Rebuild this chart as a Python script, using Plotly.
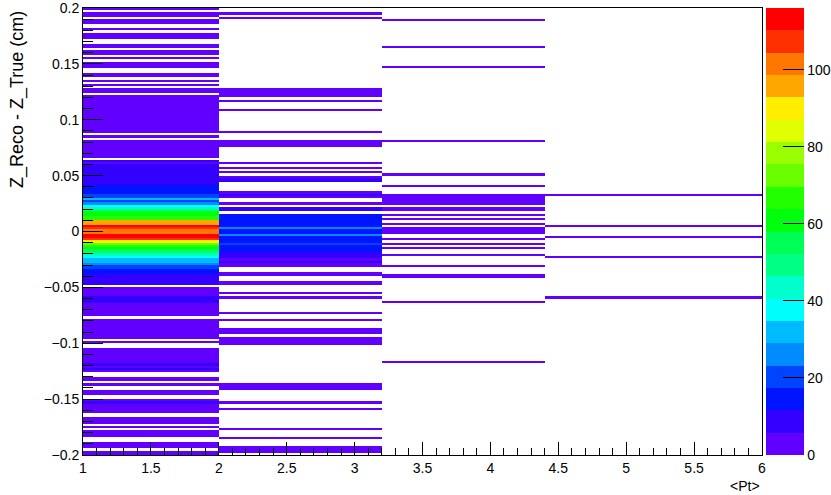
import numpy as np
import plotly.graph_objects as go

# ---- binning -------------------------------------------------------------
X_EDGES = [1.0, 2.0, 3.2, 4.4, 6.0]          # <Pt> bins (variable width)
Y_LO, Y_HI, N_YBINS = -0.2, 0.2, 200          # Z_Reco - Z_True bins (cm)

# ---- bin contents --------------------------------------------------------
# 1 < <Pt> < 2 : counts per y-bin, listed from the top (y = 0.2) downward
COL1_COUNTS = [
    2, 0, 1, 2, 0, 2, 1, 0, 0, 1,            # t 0-9
    0, 2, 1, 2, 0, 0, 1, 2, 0, 2,            # t 10-19
    1, 0, 1, 0, 2, 1, 2, 0, 0, 1,            # t 20-29
    2, 0, 1, 0, 2, 0, 2, 1, 0, 3,            # t 30-39
    2, 4, 3, 2, 4, 3, 3, 2, 4, 3,            # t 40-49
    3, 4, 3, 2, 4, 3, 0, 2, 0, 4,            # t 50-59
    3, 5, 4, 3, 5, 4, 3, 0, 7, 5,            # t 60-69
    8, 9, 6, 8, 10, 9, 7, 10, 11, 13,        # t 70-79
    15, 12, 16, 19, 21, 31, 22, 26, 36, 42,  # t 80-89
    47, 60, 62, 66, 68, 95, 94, 112, 108, 100,   # t 90-99
    102, 111, 113, 106, 89, 72, 68, 62, 55, 50,  # t 100-109
    44, 38, 33, 31, 26, 21, 19, 15, 13, 9,   # t 110-119
    10, 8, 7, 9, 0, 4, 3, 5, 4, 8,           # t 120-129
    7, 9, 4, 3, 5, 2, 4, 3, 0, 3,            # t 130-139
    4, 2, 5, 3, 4, 3, 2, 4, 0, 2,            # t 140-149
    0, 0, 3, 2, 4, 3, 2, 3, 4, 7,            # t 150-159
    3, 6, 3, 0, 0, 2, 1, 0, 2, 0,            # t 160-169
    0, 1, 2, 0, 0, 3, 6, 4, 2, 5,            # t 170-179
    3, 0, 0, 2, 3, 1, 0, 2, 0, 3,            # t 180-189
    2, 4, 0, 0, 2, 3, 2, 0, 3, 4,            # t 190-199
]

# 2 < <Pt> < 3.2 : occupied bins (bin centre in cm) and their counts
COL2_Y = [0.195, 0.191, 0.127, 0.125, 0.123, 0.121, 0.117, 0.109, 0.089,
          0.081, 0.079, 0.077, 0.061, 0.057, 0.053, 0.049, 0.047, 0.045,
          0.035, 0.033, 0.031, 0.025, 0.021, 0.019, 0.015, 0.013, 0.011,
          0.009, 0.007, 0.005, 0.003, 0.001, -0.001, -0.003, -0.005, -0.007,
          -0.009, -0.011, -0.013, -0.015, -0.017, -0.019, -0.021, -0.023,
          -0.025, -0.027, -0.029, -0.031, -0.037, -0.039, -0.045, -0.047,
          -0.055, -0.059, -0.073, -0.079, -0.087, -0.089, -0.091, -0.095,
          -0.097, -0.099, -0.101, -0.137, -0.139, -0.141, -0.153, -0.159,
          -0.177, -0.185, -0.193, -0.195, -0.197]
COL2_N = [1, 1, 3, 2, 3, 2, 1, 1, 2,
          3, 2, 3, 1, 1, 1, 5, 7, 6,
          4, 7, 5, 2, 8, 9, 13, 14, 15,
          13, 16, 14, 24, 15, 13, 25, 14, 12,
          16, 19, 15, 13, 12, 9, 8, 7,
          5, 6, 4, 5, 3, 2, 4, 3,
          1, 1, 1, 1, 2, 3, 2, 3,
          4, 2, 3, 3, 2, 4, 1, 1,
          1, 1, 2, 3, 2]

# 3.2 < <Pt> < 4.4
COL3_Y = [0.189, 0.165, 0.147, 0.081, 0.051, 0.041, 0.033, 0.031, 0.029,
          0.027, 0.025, 0.021, 0.019, 0.015, 0.011, 0.007, 0.003, 0.001,
          -0.001, -0.007, -0.011, -0.015, -0.021, -0.031, -0.039, -0.041,
          -0.063, -0.117]
COL3_N = [1, 1, 1, 1, 1, 1, 2, 3, 2,
          3, 2, 2, 3, 2, 1, 2, 3, 2,
          3, 1, 2, 1, 2, 1, 2, 3,
          1, 1]

# 4.4 < <Pt> < 6
COL4_Y = [0.033, 0.005, -0.005, -0.023, -0.059]
COL4_N = [1, 1, 1, 1, 1]

Z_MAX = 116.0
Z_TICKS = [0, 20, 40, 60, 80, 100]

# ROOT "pretty" palette sampled at 20 contour levels
PALETTE = ['#6200ff', '#3300ff', '#0014ff', '#0044ff', '#008bff',
           '#00bbff', '#00fffc', '#00ffcc', '#00ff85', '#00ff55',
           '#00ff0e', '#22ff00', '#69ff00', '#99ff00', '#e0ff00',
           '#ffee00', '#ffa700', '#ff7700', '#ff3000', '#ff0000']

Y_TICKS = [0.2, 0.15, 0.1, 0.05, 0.0, -0.05, -0.1, -0.15, -0.2]
Y_TICKTEXT = ['0.2', '0.15', '0.1', '0.05', '0', '\u22120.05', '\u22120.1',
              '\u22120.15', '\u22120.2']
X_TICKS = [1, 1.5, 2, 2.5, 3, 3.5, 4, 4.5, 5, 5.5, 6]
X_TICKTEXT = ['1', '1.5', '2', '2.5', '3', '3.5', '4', '4.5', '5', '5.5', '6']

# ---- build the 2D array ---------------------------------------------------
bw = (Y_HI - Y_LO) / N_YBINS
y_edges = np.linspace(Y_LO, Y_HI, N_YBINS + 1)
z = np.full((N_YBINS, len(X_EDGES) - 1), np.nan)

col1 = np.array(COL1_COUNTS[::-1], dtype=float)   # bottom -> top
col1[col1 == 0] = np.nan
z[:, 0] = col1


def fill(col, ys, ns):
    for yc, n in zip(ys, ns):
        idx = int(round((yc - Y_LO) / bw - 0.5))
        if n > 0:
            z[idx, col] = n


fill(1, COL2_Y, COL2_N)
fill(2, COL3_Y, COL3_N)
fill(3, COL4_Y, COL4_N)

nlev = len(PALETTE)
colorscale = []
for k, c in enumerate(PALETTE):
    colorscale.append([k / nlev, c])
    colorscale.append([(k + 1) / nlev, c])

FONT = 'Liberation Sans, Arial, Helvetica, sans-serif'

L, R, T, B = 83, 69, 8, 40
W, H = 831, 495
plot_w = W - L - R
plot_h = H - T - B

fig = go.Figure(go.Heatmap(
    x=X_EDGES, y=y_edges, z=z,
    zmin=0, zmax=Z_MAX, colorscale=colorscale, zsmooth=False,
    hoverongaps=False,
    colorbar=dict(
        x=(766 - L) / plot_w, xanchor='left', xpad=0,
        y=0.5, yanchor='middle', len=1, lenmode='fraction', ypad=0,
        thickness=38, outlinewidth=0,
        tickmode='array', tickvals=Z_TICKS,
        ticks='inside', ticklen=21, tickwidth=1, tickcolor='black',
        tickfont=dict(family=FONT, size=14, color='black'),
    ),
))

fig.update_xaxes(
    range=[X_EDGES[0], X_EDGES[-1]],
    tickmode='array', tickvals=X_TICKS, ticktext=X_TICKTEXT,
    ticks='inside', ticklen=13, tickwidth=1, tickcolor='black',
    minor=dict(dtick=0.1, ticks='inside', ticklen=7, tickwidth=1,
               tickcolor='black', tick0=1),
    showline=True, linecolor='black', linewidth=1, mirror=True,
    showgrid=False, zeroline=False, ticklabeloverflow='allow',
    tickfont=dict(family=FONT, size=14, color='black'),
)
fig.update_yaxes(
    range=[Y_LO - 1e-7, Y_HI + 1e-7],
    tickmode='array', tickvals=Y_TICKS, ticktext=Y_TICKTEXT,
    ticks='inside', ticklen=20, tickwidth=1, tickcolor='black',
    minor=dict(dtick=0.01, ticks='inside', ticklen=10, tickwidth=1,
               tickcolor='black', tick0=0),
    showline=True, linecolor='black', linewidth=1, mirror=True,
    showgrid=False, zeroline=False, ticklabeloverflow='allow',
    tickfont=dict(family=FONT, size=14, color='black'),
)

# x-axis title, right-aligned under the axis end
fig.add_annotation(
    text='&lt;Pt&gt;', xref='x', x=6, xanchor='right',
    yref='paper', y=-(486 - (H - B)) / plot_h,
    yanchor='middle', showarrow=False,
    font=dict(family=FONT, size=14, color='black'),
)
# y-axis title, aligned with the top of the axis
fig.add_annotation(
    text='Z_Reco - Z_True (cm)', textangle=-90,
    xref='paper', x=(17.5 - L) / plot_w, xanchor='center',
    yref='paper', y=1, yanchor='top', yshift=-1,
    showarrow=False,
    font=dict(family=FONT, size=18, color='black'),
)

fig.update_layout(
    width=W, height=H,
    margin=dict(l=L, r=R, t=T, b=B, pad=0, autoexpand=False),
    paper_bgcolor='white', plot_bgcolor='white',
    showlegend=False,
)

fig.write_html('out.html')
